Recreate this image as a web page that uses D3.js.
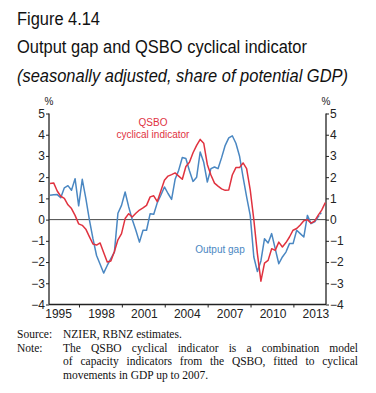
<!DOCTYPE html>
<html><head><meta charset="utf-8">
<script src="https://cdn.jsdelivr.net/npm/d3@7"></script>
<style>
html,body{margin:0;padding:0;background:#fff;}
svg{display:block;}
</style></head>
<body>
<svg id="c" width="376" height="393"></svg>
<script>
// ---- data ----
const firstQuarter = [1994, 5]; // June 1994 (year, month index)
const outputGap = [1.15,1.17,1.18,1.03,1.5,1.6,1.38,1.93,0.65,1.9,
  1.0,0.0,-0.9,-1.69,-2.1,-2.52,-2.16,-1.84,-1.53,0.3,
  0.67,1.3,0.6,0.0,-0.5,-1.06,-0.5,-0.5,0.28,0.25,
  0.8,1.15,1.54,1.23,0.95,1.9,2.33,2.93,2.88,2.3,
  1.8,2.0,3.19,2.7,1.77,2.4,2.48,2.4,2.92,3.5,
  3.85,3.95,3.6,3.0,2.0,1.07,0.2,-1.76,-2.45,-1.95,
  -0.9,-1.1,-0.66,-1.37,-2.08,-1.76,-1.53,-1.13,-1.13,-0.5,
  -0.66,-0.82,0.2,-0.19,-0.11,0.12,0.36];
const qsbo = [1.7,1.73,1.35,1.1,1.0,0.7,0.52,0.2,-0.2,-0.27,
  -0.45,-0.8,-1.15,-1.2,-1.1,-1.55,-2.0,-1.95,-1.5,-0.95,
  -0.66,0.05,0.28,0.12,0.3,0.45,0.55,0.67,1.07,1.12,
  0.85,1.35,1.85,2.05,2.12,2.2,2.05,1.9,2.5,2.7,
  3.15,3.5,3.78,3.6,2.6,2.1,1.72,1.58,1.45,1.38,
  1.4,2.1,2.45,2.45,2.67,2.4,1.4,0.0,-1.6,-2.9,
  -2.05,-1.92,-1.37,-1.45,-1.06,-1.29,-1.08,-0.82,-0.5,-0.42,
  -0.25,-0.05,0.0,-0.17,-0.07,0.2,0.45,0.8];
const yearLabels = ["1995","1998","2001","2004","2007","2010","2013"];
const yTicks = [5,4,3,2,1,0,-1,-2,-3,-4];

const svg = d3.select("#c");
const X0 = 49, X1 = 326, YT = 113.5, YB = 304.5;
const x = d3.scaleTime().domain([new Date(1994,4,14), new Date(2013,8,28)]).range([X0, X1]);
const y = d3.scaleLinear().domain([-4,5]).range([YB, YT]);
const qDate = i => d3.timeMonth.offset(new Date(firstQuarter[0], firstQuarter[1], 10), 3*i);

const sans = "'Liberation Sans', Arial, sans-serif";
const serif = "'Liberation Serif', 'DejaVu Serif', serif";
const red = "#e0323f", blue = "#4a87c2";

// ---- titles ----
const titles = [
  {t:"Figure 4.14", y:25, w:83, it:false},
  {t:"Output gap and QSBO cyclical indicator", y:53, w:290, it:false},
  {t:"(seasonally adjusted, share of potential GDP)", y:81.5, w:331, it:true}
];
titles.forEach(d => {
  svg.append("text").attr("x",17).attr("y",d.y).text(d.t)
    .attr("font-family",sans).attr("font-size",17.5).attr("fill","#111")
    .attr("font-style",d.it?"italic":"normal")
    .attr("textLength",d.w).attr("lengthAdjust","spacingAndGlyphs");
});

// ---- axes frame ----
const g = svg.append("g");
g.append("line").attr("x1",X0).attr("x2",X0).attr("y1",YT).attr("y2",YB).attr("stroke","#222").attr("stroke-width",1.3);
g.append("line").attr("x1",X1).attr("x2",X1).attr("y1",YT).attr("y2",YB).attr("stroke","#222").attr("stroke-width",1.3);
g.append("line").attr("x1",X0).attr("x2",X1).attr("y1",YB).attr("y2",YB).attr("stroke","#222").attr("stroke-width",1.3);
// zero line
g.append("line").attr("x1",X0).attr("x2",X1).attr("y1",y(0)).attr("y2",y(0)).attr("stroke","#333").attr("stroke-width",0.9);

const fmt = v => v < 0 ? "\u2212" + Math.abs(v) : String(v);
// left axis
const la = d3.axisLeft(y).tickValues(yTicks).tickSize(3).tickPadding(1).tickFormat(fmt);
const lg = svg.append("g").attr("transform",`translate(${X0},0)`).call(la);
// right axis
const ra = d3.axisRight(y).tickValues(yTicks).tickSize(3).tickPadding(1).tickFormat(fmt);
const rg = svg.append("g").attr("transform",`translate(${X1},0)`).call(ra);
[lg,rg].forEach(a => {
  a.select(".domain").remove();
  a.selectAll("text").attr("font-family",sans).attr("font-size",12).attr("fill","#222");
  a.selectAll("line").attr("stroke","#222");
});
// percent signs
svg.append("text").attr("x",X0).attr("y",104.5).attr("text-anchor","middle").text("%")
  .attr("font-family",sans).attr("font-size",10).attr("fill","#222");
svg.append("text").attr("x",X1).attr("y",104.5).attr("text-anchor","middle").text("%")
  .attr("font-family",sans).attr("font-size",10).attr("fill","#222");

// x axis labels and ticks
const yearDates = yearLabels.map(s => new Date(+s,0,1));
const xa = d3.axisBottom(x).tickValues(yearDates).tickSize(0).tickPadding(5).tickFormat((d,i)=>yearLabels[i]);
const xg = svg.append("g").attr("transform",`translate(0,${YB})`).call(xa);
xg.select(".domain").remove();
xg.selectAll("text").attr("font-family",sans).attr("font-size",12).attr("fill","#222");
const midTicks = yearLabels.slice(0,-1).map(s => new Date(+s+1,6,1));
svg.append("g").selectAll("line").data(midTicks).join("line")
  .attr("x1",d=>x(d)).attr("x2",d=>x(d)).attr("y1",YB).attr("y2",YB+3)
  .attr("stroke","#222");

// ---- lines ----
const line = d3.line().x(d=>x(d.date)).y(d=>y(d.v));
const qData = qsbo.map((v,i)=>({date:qDate(i),v}));
const ogData = outputGap.map((v,i)=>({date:qDate(i),v}));
svg.append("path").datum(ogData.slice(0,-1)).attr("d",line)
  .attr("fill","none").attr("stroke",blue).attr("stroke-width",1.5).attr("stroke-linejoin","round");
svg.append("path").datum(ogData.slice(-2)).attr("d",line)
  .attr("fill","none").attr("stroke",blue).attr("stroke-width",1.5).attr("stroke-dasharray","2,1.5");
svg.append("path").datum(qData).attr("d",line)
  .attr("fill","none").attr("stroke",red).attr("stroke-width",1.5).attr("stroke-linejoin","round");

// ---- series labels ----
svg.append("text").attr("x",153).attr("y",126).attr("text-anchor","middle").text("QSBO")
  .attr("font-family",sans).attr("font-size",10).attr("fill",red);
svg.append("text").attr("x",153).attr("y",138).attr("text-anchor","middle").text("cyclical indicator")
  .attr("font-family",sans).attr("font-size",10).attr("fill",red);
svg.append("text").attr("x",220).attr("y",253).attr("text-anchor","middle").text("Output gap")
  .attr("font-family",sans).attr("font-size",10).attr("fill",blue);

// ---- notes ----
const notes = [
  {lab:"Source:", t:"NZIER, RBNZ estimates.", y:338, just:false},
  {lab:"Note:", t:"The QSBO cyclical indicator is a combination model", y:351.5, just:true},
  {lab:"", t:"of capacity indicators from the QSBO, fitted to cyclical", y:365, just:true},
  {lab:"", t:"movements in GDP up to 2007.", y:378.5, just:false}
];
notes.forEach(d => {
  if (d.lab) svg.append("text").attr("x",17).attr("y",d.y).text(d.lab)
    .attr("font-family",serif).attr("font-size",11.5).attr("fill","#111");
  const t = svg.append("text").attr("x",63).attr("y",d.y).text(d.t)
    .attr("font-family",serif).attr("font-size",11.5).attr("fill","#111");
  if (d.just) {
    const w = t.node().getComputedTextLength();
    const gaps = d.t.split(" ").length - 1;
    t.attr("word-spacing", ((358-63) - w)/gaps);
  }
});
</script>
</body></html>
